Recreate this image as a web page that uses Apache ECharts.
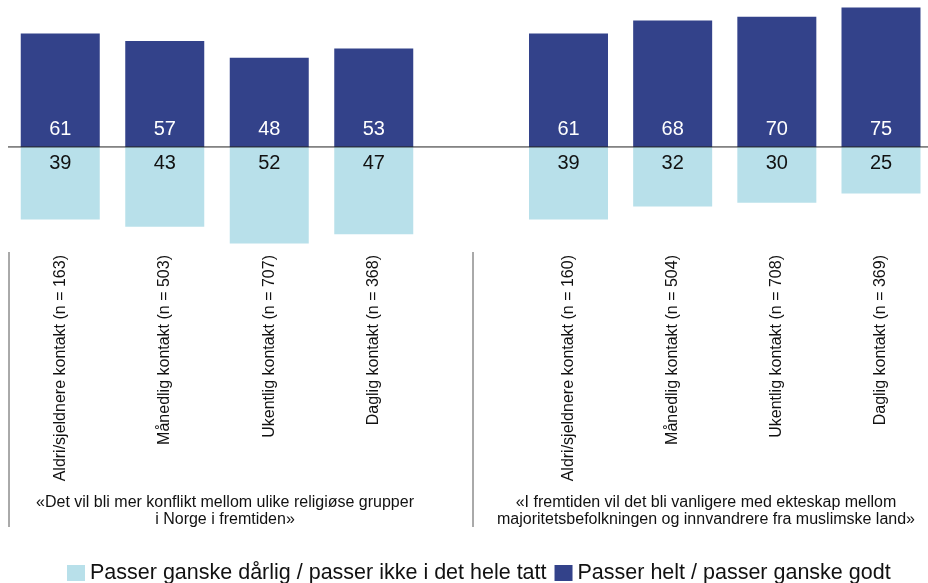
<!DOCTYPE html>
<html>
<head>
<meta charset="utf-8">
<script src="https://cdn.jsdelivr.net/npm/echarts@6/dist/echarts.min.js"></script>
<style>
html,body{margin:0;padding:0;background:#fff;}
#c{width:928px;height:583px;}
</style>
</head>
<body>
<div id="c"></div>
<script>
var categoriesA = ['Aldri/sjeldnere kontakt (n = 163)', 'Månedlig kontakt (n = 503)', 'Ukentlig kontakt (n = 707)', 'Daglig kontakt (n = 368)'];
var categoriesB = ['Aldri/sjeldnere kontakt (n = 160)', 'Månedlig kontakt (n = 504)', 'Ukentlig kontakt (n = 708)', 'Daglig kontakt (n = 369)'];
var goodA = [61, 57, 48, 53];
var badA = [39, 43, 52, 47];
var goodB = [61, 68, 70, 75];
var badB = [39, 32, 30, 25];
var titleA = '«Det vil bli mer konflikt mellom ulike religiøse grupper\ni Norge i fremtiden»';
var titleB = '«I fremtiden vil det bli vanligere med ekteskap mellom\nmajoritetsbefolkningen og innvandrere fra muslimske land»';
var nameGood = 'Passer helt / passer ganske godt';
var nameBad = 'Passer ganske dårlig / passer ikke i det hele tatt';

var DARK = '#33428a';
var LIGHT = '#b8e0ea';
var FONT = '"Liberation Sans", Arial, sans-serif';

var chart = echarts.init(document.getElementById('c'));

function xAxisFor(idx, cats, boundary) {
  return {
    type: 'category', gridIndex: idx, data: cats, boundaryGap: boundary,
    axisLine: {show: false}, axisTick: {show: false},
    axisLabel: {rotate: 90, margin: 4, fontSize: 16, color: '#111', fontFamily: FONT, interval: 0}
  };
}
function yAxisFor(idx) {
  return {type: 'value', gridIndex: idx, min: -56, max: 78, show: false};
}
function goodSeries(idx, vals) {
  return {
    name: nameGood, type: 'bar', xAxisIndex: idx, yAxisIndex: idx,
    data: vals, barWidth: 79, barGap: '-100%', clip: false,
    itemStyle: {color: DARK},
    label: {show: true, position: 'insideBottom', distance: 7, color: '#fff', fontSize: 20, fontFamily: FONT},
    z: 2
  };
}
function badSeries(idx, vals) {
  return {
    name: nameBad, type: 'bar', xAxisIndex: idx, yAxisIndex: idx,
    data: vals.map(function (v) { return -v; }), barWidth: 79, barGap: '-100%', clip: false,
    itemStyle: {color: LIGHT},
    label: {show: true, position: 'insideTop', distance: 7, color: '#111', fontSize: 20, fontFamily: FONT,
      formatter: function (p) { return Math.abs(p.value); }},
    z: 2
  };
}

chart.setOption({
  animation: false,
  backgroundColor: '#fff',
  grid: [
    {left: 8, top: 2, width: 418, height: 249},
    {left: 568.5, top: 2, width: 312.5, height: 249}
  ],
  xAxis: [xAxisFor(0, categoriesA, true), xAxisFor(1, categoriesB, false)],
  yAxis: [yAxisFor(0), yAxisFor(1)],
  legend: {
    left: 62, top: 557,
    icon: 'rect', itemWidth: 18, itemHeight: 16, itemGap: 8,
    data: [nameBad, nameGood],
    textStyle: {fontSize: 21.5, color: '#111', fontFamily: FONT}
  },
  series: [goodSeries(0, goodA), badSeries(0, badA), goodSeries(1, goodB), badSeries(1, badB)]
});

var y0 = chart.convertToPixel({yAxisIndex: 0}, 0);
chart.setOption({
  graphic: [
    {type: 'line', shape: {x1: 8, y1: y0, x2: 928, y2: y0}, style: {stroke: '#222', lineWidth: 1}, z: 10},
    {type: 'line', shape: {x1: 9, y1: 252, x2: 9, y2: 527}, style: {stroke: '#555', lineWidth: 1}},
    {type: 'line', shape: {x1: 473, y1: 252, x2: 473, y2: 527}, style: {stroke: '#555', lineWidth: 1}},
    {type: 'text', x: 225, y: 494, style: {text: titleA, textAlign: 'center', fill: '#111', font: '16px ' + FONT, lineHeight: 17}},
    {type: 'text', x: 706, y: 494, style: {text: titleB, textAlign: 'center', fill: '#111', font: '16px ' + FONT, lineHeight: 17}}
  ]
});
</script>
</body>
</html>
